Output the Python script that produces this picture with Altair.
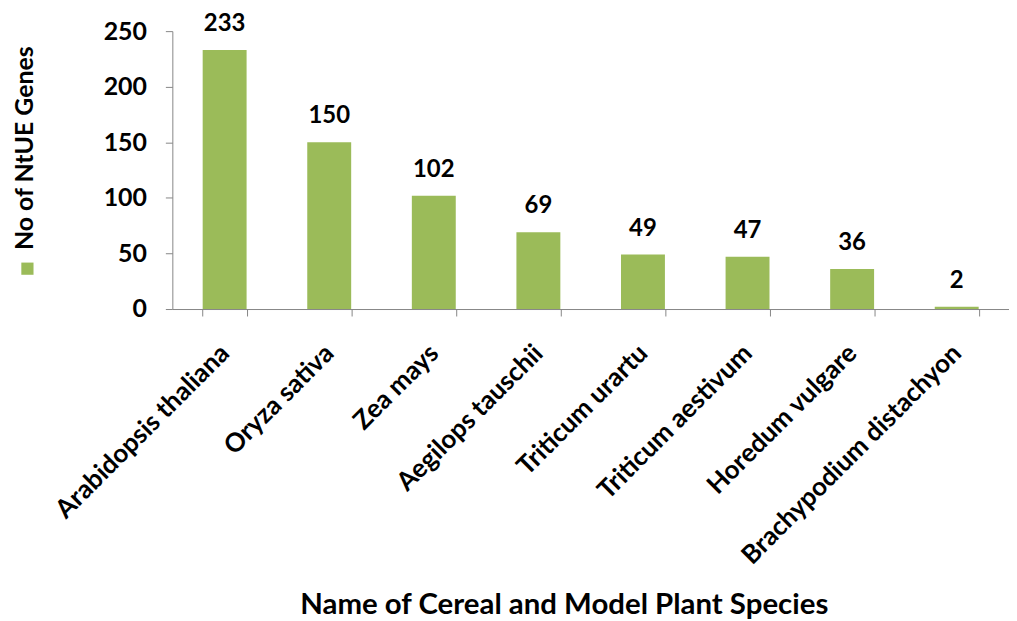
import altair as alt
import pandas as pd

species = [
    "Arabidopsis thaliana",
    "Oryza sativa",
    "Zea mays",
    "Aegilops tauschii",
    "Triticum urartu",
    "Triticum aestivum",
    "Horedum vulgare",
    "Brachypodium distachyon",
]
genes = [233, 150, 102, 69, 49, 47, 36, 2]
series_name = "No of NtUE Genes"
y_ticks = [0, 50, 100, 150, 200, 250]

df = pd.DataFrame({
    "species": species,
    "genes": genes,
    "series": [series_name] * len(species),
})

FONT = "Lato"
GREEN = "#9BBB59"
GRAY = "#868686"

x_enc = alt.X(
    "species:N",
    sort=species,
    scale=alt.Scale(paddingInner=0.58, paddingOuter=0.29),
    axis=alt.Axis(
        title="Name of Cereal and Model Plant Species",
        labelAngle=-45,
        labelAlign="right",
        labelBaseline="middle",
        labelPadding=33,
        labelFontSize=26,
        labelLimit=0,
        tickBand="extent",
        tickSize=7,
        titleX=393,
        titleY=297,
        titleAlign="center",
        titleBaseline="middle",
        titleFontSize=29.5,
    ),
)
y_enc = alt.Y(
    "genes:Q",
    scale=alt.Scale(domain=[0, 250]),
    axis=alt.Axis(
        title=series_name,
        values=y_ticks,
        grid=False,
        tickSize=7,
        labelPadding=19,
        labelFontSize=25,
        titleAngle=270,
        titleX=-148,
        titleY=117,
        titleAlign="center",
        titleBaseline="middle",
        titleFontSize=25,
    ),
)

bars = alt.Chart(df).mark_bar().encode(
    x=x_enc,
    y=y_enc,
    color=alt.Color(
        "series:N",
        scale=alt.Scale(range=[GREEN]),
        legend=alt.Legend(
            orient="none",
            legendX=-152,
            legendY=232,
            title=None,
            labelExpr="''",
            symbolType="square",
            symbolSize=150,
            symbolStrokeWidth=0,
            padding=0,
        ),
    ),
)

labels = alt.Chart(df).mark_text(
    dy=-19, fontSize=24, fontWeight="bold", font=FONT, baseline="alphabetic", color="black"
).encode(x=x_enc, y=y_enc, text="genes:Q")

chart = (
    alt.layer(bars, labels)
    .properties(
        width=840,
        height=279,
        autosize=alt.AutoSizeParams(type="none"),
        padding={"left": 165, "top": 22, "right": 0, "bottom": 310},
    )
    .configure_view(stroke=None)
    .configure_axis(
        domainColor=GRAY,
        tickColor=GRAY,
        labelColor="black",
        titleColor="black",
        labelFont=FONT,
        titleFont=FONT,
        labelFontWeight="bold",
        titleFontWeight="bold",
    )
)

chart.save("out.html", embed_options={"renderer": "svg", "actions": False})
